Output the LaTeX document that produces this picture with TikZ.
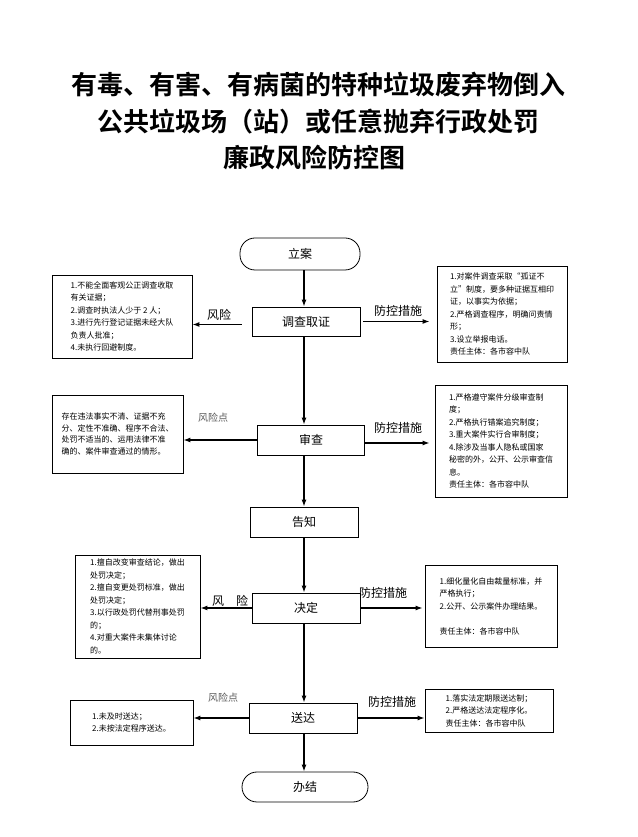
\documentclass[tikz,border=0pt]{standalone}
\usepackage{fontspec}
\setmainfont{Noto Sans CJK SC}[BoldFont={Noto Sans CJK SC Bold}]
\usetikzlibrary{arrows.meta}
\definecolor{drawColor}{RGB}{0,0,0}
\definecolor{noteColor}{RGB}{90,90,90}
\tikzset{
  mainbox/.style={draw=drawColor,line width=0.8pt,minimum height=30pt,inner sep=0pt,font=\fontsize{12}{14}\selectfont},
  endbox/.style={mainbox,rounded corners=15pt},
  sidebox/.style={draw=drawColor,line width=0.8pt,inner sep=0pt,align=left,font=\fontsize{8}{12.5}\selectfont},
  flow/.style={draw=drawColor,line width=1.2pt,-{Latex[length=7pt,width=5pt]}},
  tag/.style={inner sep=0pt,font=\fontsize{12}{14}\selectfont},
  risktag/.style={inner sep=0pt,text=noteColor,font=\fontsize{10}{12}\selectfont}
}
\begin{document}
\begin{tikzpicture}[x=1pt,y=1pt]
\path[use as bounding box,fill=white] (0,0) rectangle (637,837);
% title
\node[font=\fontsize{26}{30}\selectfont\bfseries] (title1) at (318,752) {有毒、有害、有病菌的特种垃圾废弃物倒入};
\node[font=\fontsize{26}{30}\selectfont\bfseries] (title2) at (318,715) {公共垃圾场（站）或任意抛弃行政处罚};
\node[font=\fontsize{26}{30}\selectfont\bfseries] (title3) at (314,679) {廉政风险防控图};

% main chain
\coordinate (axis) at (304,0);
\node[endbox,minimum width=120pt,minimum height=32pt] (lian) at (300,583) {立案};
\node[mainbox,minimum width=108pt,minimum height=29pt] (diaocha) at (306,515.5) {调查取证};
\node[mainbox,minimum width=107pt] (shencha) at (311,397) {审查};
\node[mainbox,minimum width=108pt] (gaozhi) at (304,315) {告知};
\node[mainbox,minimum width=108pt] (jueding) at (306,229) {决定};
\node[mainbox,minimum width=108pt] (songda) at (303,119) {送达};
\node[endbox,minimum width=126pt] (banjie) at (305,50) {办结};

\draw[flow] (lian.south -| axis) -- (diaocha.north -| axis);
\draw[flow] (diaocha.south -| axis) -- (shencha.north -| axis);
\draw[flow] (shencha.south -| axis) -- (gaozhi.north -| axis);
\draw[flow] (gaozhi.south -| axis) -- (jueding.north -| axis);
\draw[flow] (jueding.south -| axis) -- (songda.north -| axis);
\draw[flow] (songda.south -| axis) -- (banjie.north -| axis);

% risk boxes (left)
\node[sidebox,minimum width=140pt,minimum height=83pt] (risk1) at (122,520.5) {1.不能全面客观公正调查收取\\有关证据；\\2.调查时执法人少于 2 人；\\3.进行先行登记证据未经大队\\负责人批准；\\4.未执行回避制度。};
\node[sidebox,minimum width=131pt,minimum height=78pt,font=\fontsize{8}{11.5}\selectfont] (risk2) at (117.5,403) {存在违法事实不清、证据不充\\分、定性不准确、程序不合法、\\处罚不适当的、运用法律不准\\确的、案件审查通过的情形。};
\node[sidebox,minimum width=125pt,minimum height=103pt] (risk3) at (137.5,230.5) {1.擅自改变审查结论，做出\\处罚决定；\\2.擅自变更处罚标准，做出\\处罚决定；\\3.以行政处罚代替刑事处罚\\的；\\4.对重大案件未集体讨论\\的。};
\node[sidebox,minimum width=123pt,minimum height=45pt] (risk4) at (131.5,114.5) {1.未及时送达；\\2.未按法定程序送达。};

% control boxes (right)
\node[sidebox,minimum width=130pt,minimum height=96pt] (ctrl1) at (502,523) {1.对案件调查采取“孤证不\\立”制度，要多种证据互相印\\证，以事实为依据；\\2.严格调查程序，明确问责情\\形；\\3.设立举报电话。\\责任主体：各市容中队};
\node[sidebox,minimum width=132pt,minimum height=112pt] (ctrl2) at (501,396) {1.严格遵守案件分级审查制\\度；\\2.严格执行错案追究制度；\\3.重大案件实行合审制度；\\4.除涉及当事人隐私或国家\\秘密的外，公开、公示审查信\\息。\\责任主体：各市容中队};
\node[sidebox,minimum width=132pt,minimum height=82pt] (ctrl3) at (491,231) {1.细化量化自由裁量标准，并\\严格执行；\\2.公开、公示案件办理结果。\\\\责任主体：各市容中队};
\node[sidebox,minimum width=128pt,minimum height=43pt] (ctrl4) at (489,126.5) {1.落实法定期限送达制；\\2.严格送达法定程序化。\\责任主体：各市容中队};

% side connectors
\draw[flow,shorten <=10pt] ([yshift=-3pt]diaocha.west) -- ([yshift=-3pt]diaocha.west -| risk1.east);
\draw[flow,shorten <=3pt,shorten >=7pt] (diaocha.east) -- (diaocha.east -| ctrl1.west);
\draw[flow] (shencha.west) -- (shencha.west -| risk2.east);
\draw[flow,shorten >=5pt] ([yshift=-3pt]shencha.east) -- ([yshift=-3pt]shencha.east -| ctrl2.west);
\draw[flow] (jueding.west) -- (jueding.west -| risk3.east);
\draw[flow,shorten >=2pt] (jueding.east) -- (jueding.east -| ctrl3.west);
\draw[flow] (songda.west) -- (songda.west -| risk4.east);
\draw[flow] (songda.east) -- (songda.east -| ctrl4.west);

% labels
\node[tag] (lab1l) at (219,522) {风险};
\node[tag] (lab1r) at (398,526) {防控措施};
\node[risktag] (lab2l) at (213,419) {风险点};
\node[tag] (lab2r) at (398,409) {防控措施};
\node[tag] (lab3l) at (230,236) {风\quad 险};
\node[tag] (lab3r) at (383,244) {防控措施};
\node[risktag] (lab4l) at (223,139) {风险点};
\node[tag] (lab4r) at (392,135) {防控措施};
\end{tikzpicture}
\end{document}
